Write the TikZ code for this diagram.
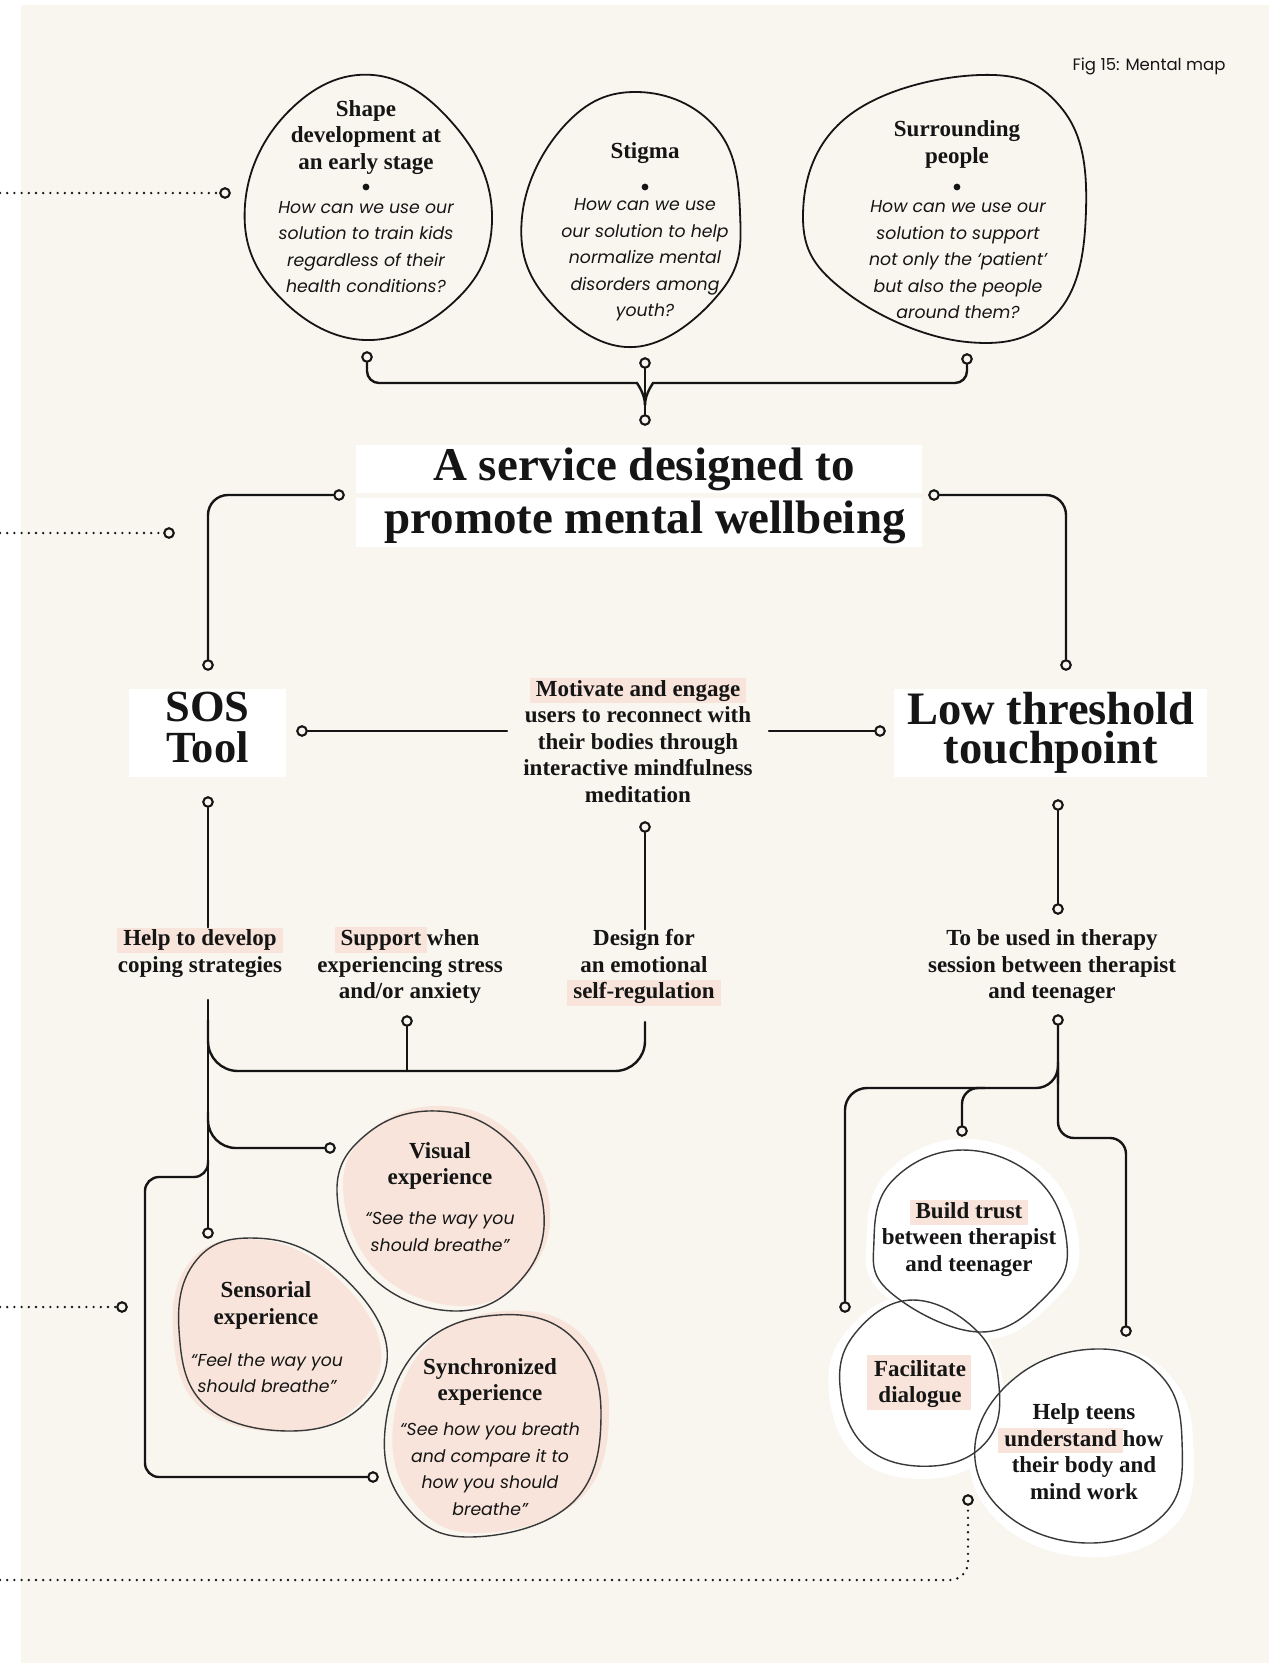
\documentclass[tikz,border=0pt]{standalone}
\usepackage{fontspec}
\setmainfont{Liberation Serif}
\newfontfamily\futura{Poppins}
\definecolor{paper}{HTML}{F9F6F0}
\definecolor{ink}{HTML}{151515}
\definecolor{blush}{HTML}{F8E4DA}
% pink marker behind a word or phrase, without changing its width
\newcommand\hlt[1]{\leavevmode\setbox0=\hbox{#1}\rlap{\kern-6pt\textcolor{blush}{\rule[-0.3em]{\dimexpr\wd0+12pt\relax}{1.1em}}}\box0\relax}
% blob outlines
\newcommand\blobA{plot[smooth cycle,tension=0.7] coordinates {(373,75) (455,126) (492,215) (458,298) (365,340) (275,292) (245,205) (288,112)}}
\newcommand\blobB{plot[smooth cycle,tension=0.7] coordinates {(638,92) (716,128) (740,212) (722,290) (634,347) (548,300) (522,217) (565,125)}}
\newcommand\blobC{plot[smooth cycle,tension=0.7] coordinates {(980,75) (1063,110) (1086,210) (1057,313) (967,342) (847,293) (803,217) (847,117)}}
\newcommand\blobVis{plot[smooth cycle,tension=0.7] coordinates {(437,1111) (505,1138) (543,1205) (525,1275) (458,1311) (372,1277) (337,1192) (368,1133)}}
\newcommand\blobSen{plot[smooth cycle,tension=0.7] coordinates {(250,1238) (325,1262) (385,1338) (363,1405) (290,1431) (205,1405) (179,1330) (195,1262)}}
\newcommand\blobSyn{plot[smooth cycle,tension=0.7] coordinates {(498,1315) (572,1337) (601,1413) (572,1503) (470,1537) (405,1505) (385,1430) (420,1347)}}
\newcommand\blobTrust{plot[smooth cycle,tension=0.7] coordinates {(962,1150) (1037,1179) (1067,1245) (1047,1295) (980,1332) (890,1292) (874,1240) (893,1180)}}
\newcommand\blobFac{plot[smooth cycle,tension=0.7] coordinates {(913,1300) (977,1331) (999,1386) (987,1441) (933,1466) (867,1448) (840,1386) (857,1331)}}
\newcommand\blobTeen{plot[smooth cycle,tension=0.7] coordinates {(1103,1349) (1163,1378) (1182,1441) (1167,1511) (1093,1543) (1007,1515) (975,1445) (1020,1374)}}
\begin{document}
\begin{tikzpicture}[x=1pt,y=-1pt,
  conn/.style={draw=ink,line width=2.4pt,line cap=round},
  dotline/.style={draw=ink,line width=2.6pt,line cap=round,dash pattern=on 0pt off 7.2pt},
  port/.style={circle,draw=ink,line width=2.1pt,fill=paper,inner sep=0pt,minimum size=9.5pt},
  bubble/.style={draw=ink,line width=1.8pt},
  softbubble/.style={draw=ink!85,line width=1.4pt},
  bt/.style={font=\bfseries\fontsize{23}{26.5}\selectfont,align=center,inner sep=0pt,text=ink,yshift=-2.5pt},
  qt/.style={font=\futura\itshape\fontsize{17.3}{26.5}\selectfont,align=center,inner sep=0pt,text=ink},
  bigbox/.style={fill=white,inner sep=0pt},
  bigtext/.style={font=\bfseries\fontsize{47}{54}\selectfont,align=center,inner sep=0pt,text=ink},
]
\useasboundingbox (0,0) rectangle (1283,1663);
\fill[white] (0,0) rectangle (1283,1663);
\fill[paper] (21,5) rectangle (1269,1663);

% caption
\node[font=\futura\fontsize{16.5}{20}\selectfont,text=ink,inner sep=0pt] (cap) at (1149,66) {Fig 15: Mental map};

% ---------- top question bubbles ----------
\draw[bubble] \blobA;
\draw[bubble] \blobB;
\draw[bubble] \blobC;

\node[bt] (shapeT) at (366,135) {Shape\\development at\\an early stage};
\fill[ink] (366,187) circle (3.4);
\node[qt] (shapeQ) at (366,247) {How can we use our\\solution to train kids\\regardless of their\\health conditions?};

\node[bt] (stigT) at (645,151) {Stigma};
\fill[ink] (645,187) circle (3.4);
\node[qt] (stigQ) at (645,260) {How can we use\\our solution to help\\normalize mental\\disorders among\\youth?};

\node[bt] (surT) at (957,142) {Surrounding\\people};
\fill[ink] (957,187) circle (3.4);
\node[qt] (surQ) at (958,260) {How can we use our\\solution to support\\not only the ‘patient’\\but also the people\\around them?};

% ---------- title ----------
\node[bigbox,minimum width=566pt,minimum height=48pt] (tt1) at (639,469) {};
\node[bigbox,minimum width=566pt,minimum height=49pt] (tt2) at (639,522.5) {};
\node[bigtext] (ttA) at (644,469) {A service designed to};
\node[bigtext] (ttB) at (645,522.5) {promote mental wellbeing};

% ---------- SOS tool / low threshold touchpoint ----------
\node[bigbox,minimum width=157pt,minimum height=88pt] (sos) at (207.5,733) {};
\node[bigtext,font=\bfseries\fontsize{44.5}{41}\selectfont] (sosT) at (207.5,727.5) {SOS\\Tool};
\node[bigbox,minimum width=313pt,minimum height=88pt] (low) at (1050.5,733) {};
\node[bigtext,font=\bfseries\fontsize{46.5}{39}\selectfont] (lowT) at (1051,732.5) {Low threshold\\touchpoint};

\node[bt] (mot) at (638,737.5) {\hlt{Motivate and engage}\\users to reconnect with\\their bodies through\\interactive mindfulness\\meditation};

% ---------- middle row ----------
\node[bt] (help) at (200,950) {\hlt{Help to develop}\\coping strategies};
\node[bt] (supp) at (410,963) {\hlt{Support} when\\experiencing stress\\and/or anxiety};
\node[bt] (des) at (644,965) {Design for\\an emotional\\\hlt{self-regulation}};
\node[bt] (ther) at (1052,964.5) {To be used in therapy\\session between therapist\\and teenager};

% ---------- experience bubbles (left) ----------
\fill[blush,shift={(6,-5)}] \blobVis;
\fill[blush,shift={(-6,1)}] \blobSen;
\fill[blush,shift={(8,-4)}] \blobSyn;
\draw[softbubble] \blobVis;
\draw[softbubble] \blobSen;
\draw[softbubble] \blobSyn;

\node[bt] (visT) at (440,1163.5) {Visual\\experience};
\node[qt] (visQ) at (440,1231.5) {“See the way you\\should breathe”};
\node[bt] (senT) at (266,1303) {Sensorial\\experience};
\node[qt] (senQ) at (267,1373) {“Feel the way you\\should breathe”};
\node[bt] (synT) at (490,1379.5) {Synchronized\\experience};
\node[qt] (synQ) at (490,1469) {“See how you breath\\and compare it to\\how you should\\breathe”};

% ---------- therapy bubbles (right) ----------
\fill[white,scale around={1.1:(970,1240)},shift={(2,-2)}] \blobTrust;
\fill[white,scale around={1.1:(920,1383)},shift={(-3,4)}] \blobFac;
\fill[white,scale around={1.08:(1080,1446)},shift={(3,6)}] \blobTeen;
\draw[softbubble] \blobTrust;
\draw[softbubble] \blobFac;
\draw[softbubble] \blobTeen;

\fill[blush] (867,1355) rectangle (971,1410);
\node[bt] (trust) at (969,1235.5) {\hlt{Build trust}\\between therapist\\and teenager};
\node[bt] (fac) at (920,1381.5) {Facilitate\\dialogue};
\node[bt] (teen) at (1084,1449) {Help teens\\\hlt{understand} how\\their body and\\mind work};

% ---------- ports ----------
\node[port] (q1) at (367,357) {};
\node[port] (q2) at (645,363) {};
\node[port] (q3) at (967,359) {};
\node[port] (qj) at (645,420) {};
\node[port] (tl) at (339,495) {};
\node[port] (tr) at (934,495) {};
\node[port] (st) at (208,665) {};
\node[port] (lt) at (1066,665) {};
\node[port] (sr) at (302,731) {};
\node[port] (lL) at (880,731) {};
\node[port] (sb) at (208,802) {};
\node[port] (mb) at (645,827) {};
\node[port] (lb) at (1058,805) {};
\node[port] (lb2) at (1058,909) {};
\node[port] (sp) at (407,1021) {};
\node[port] (tb) at (1058,1020) {};
\node[port] (vc) at (330,1148) {};
\node[port] (sc) at (208,1233) {};
\node[port] (yc) at (373,1477) {};
\node[port] (fc) at (845,1307) {};
\node[port] (bc) at (962,1131) {};
\node[port] (hc) at (1126,1331) {};
\node[port] (d1) at (225,193) {};
\node[port] (d2) at (169,533) {};
\node[port] (d3) at (122,1307) {};
\node[port] (d4) at (968,1500) {};

% ---------- connector waypoints ----------
\coordinate (jt) at (645,405);
\coordinate (mL) at (507,731);
\coordinate (mR) at (769,731);
\coordinate (mv) at (208,1000);
\coordinate (brL) at (208,1020);
\coordinate (brR) at (645,1071);
\coordinate (dsb) at (645,1022);
\coordinate (vb) at (208,1112);
\coordinate (lbk) at (208,1160);
\coordinate (rjun) at (1058,1062);
\coordinate (e1) at (0,193);
\coordinate (e2) at (0,533);
\coordinate (e3) at (0,1307);
\coordinate (e4) at (0,1580);

% ---------- connectors ----------
\draw[conn,rounded corners=12pt] (q1.south) |- (625,383) to[out=0,in=90] (jt);
\draw[conn,rounded corners=12pt] (q3.south) |- (665,383) to[out=180,in=90] (jt);
\draw[conn] (q2.south) -- (qj.north);

\draw[conn,rounded corners=20pt] (tl.west) -| (st.north);
\draw[conn,rounded corners=20pt] (tr.east) -| (lt.north);

\draw[conn] (sr.east) -- (mL);
\draw[conn] (mR) -- (lL.west);
\draw[conn] (mb.south) -- (mb.south |- des.north);
\draw[conn] (sb.south) -- (sb.south |- help.north);
\draw[conn] (lb.south) -- (lb2.north);

\draw[conn] (mv) -- (sc.north);
\draw[conn,rounded corners=30pt] (brL) |- (brR) -- (dsb);
\draw[conn] (sp.south) -- (sp.south |- brR);
\draw[conn,rounded corners=28pt] (vb) |- (vc.west);
\draw[conn,rounded corners=14pt] (lbk) |- (175,1177) -- (145,1177) -- (145,1477) -- (yc.west);

\draw[conn,rounded corners=22pt] (tb.south) -- (rjun) |- (900,1088) -| (fc.north);
\draw[conn,rounded corners=16pt] (985,1088) -| (bc.north);
\draw[conn,rounded corners=16pt] (rjun) -- (1058,1138) -- (1126,1138) -- (hc.north);

% dotted leads from the page edge
\draw[dotline] (e1) -- (d1.west);
\draw[dotline] (e2) -- (d2.west);
\draw[dotline] (e3) -- (d3.west);
\draw[dotline,rounded corners=18pt] (e4) -| (d4.south);
\end{tikzpicture}
\end{document}
